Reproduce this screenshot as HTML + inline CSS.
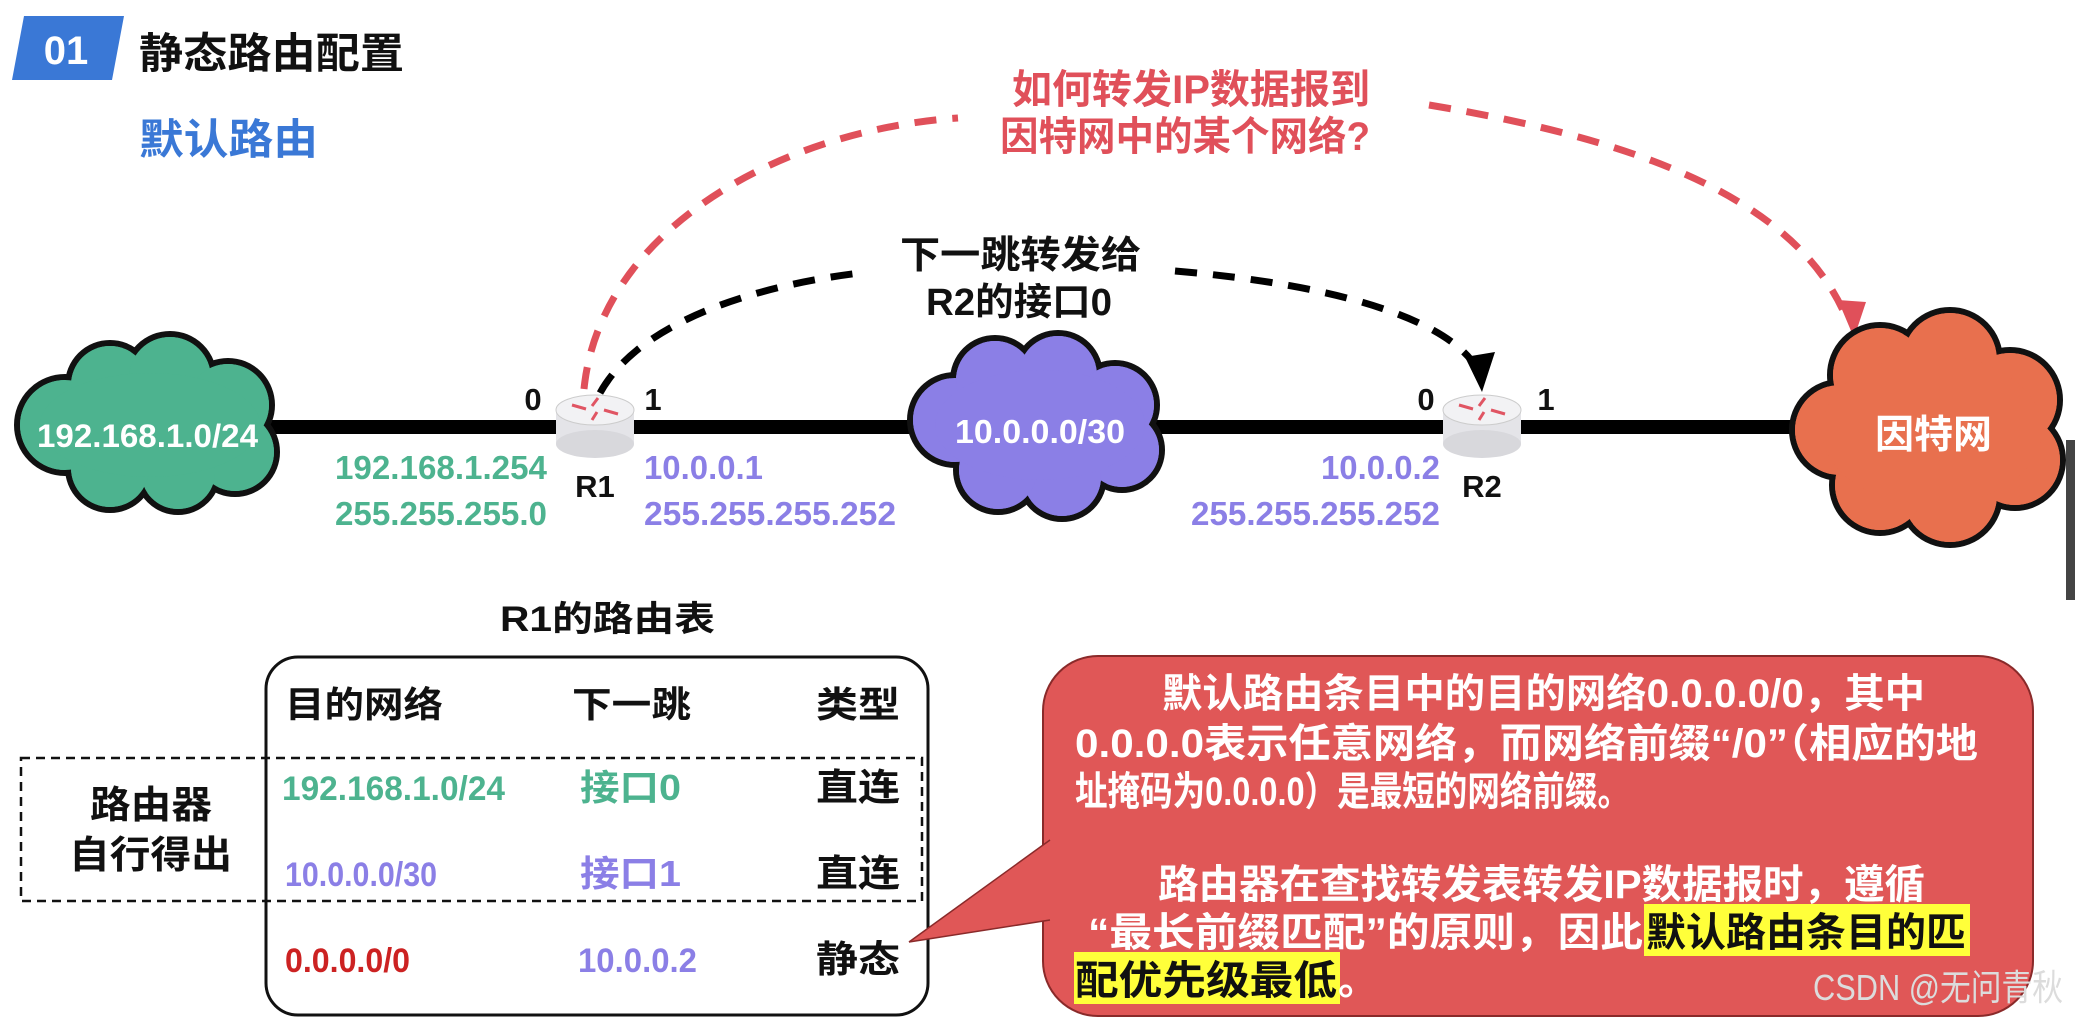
<!DOCTYPE html>
<html><head><meta charset="utf-8"><style>
html,body{margin:0;padding:0;background:#fff;}
svg{display:block;}
text{font-family:"Liberation Sans","Noto Sans CJK SC",sans-serif;font-weight:bold;}
</style></head><body>
<svg width="2075" height="1028" viewBox="0 0 2075 1028" xmlns="http://www.w3.org/2000/svg">
<!-- header -->
<polygon points="24,16 124,16 112,80 12,80" fill="#3a78d6"/>
<text x="66" y="64" font-size="40" fill="#fff" text-anchor="middle">01</text>
<text x="139" y="68" font-size="42" fill="#111" textLength="265" lengthAdjust="spacingAndGlyphs">静态路由配置</text>
<text x="139" y="154" font-size="42" fill="#3a78d6" textLength="179" lengthAdjust="spacingAndGlyphs">默认路由</text>

<!-- red question -->
<text x="1012" y="103" font-size="40" fill="#e0505a" textLength="358" lengthAdjust="spacingAndGlyphs">如何转发IP数据报到</text>
<text x="1000" y="150" font-size="40" fill="#e0505a" textLength="370" lengthAdjust="spacingAndGlyphs">因特网中的某个网络?</text>
<text x="900" y="268" font-size="38" fill="#111" textLength="241" lengthAdjust="spacingAndGlyphs">下一跳转发给</text>
<text x="926" y="315" font-size="38" fill="#111" textLength="186" lengthAdjust="spacingAndGlyphs">R2的接口0</text>

<!-- dashed curves -->
<path d="M584 389 C 600 230, 780 130, 958 118" fill="none" stroke="#e0505a" stroke-width="7" stroke-dasharray="22,16"/>
<path d="M1429 105 C 1640 140, 1800 200, 1848 322" fill="none" stroke="#e0505a" stroke-width="7" stroke-dasharray="22,16"/>
<path d="M600 393 C 640 320, 760 285, 860 273" fill="none" stroke="#000" stroke-width="7" stroke-dasharray="22,16"/>
<path d="M1175 271 C 1340 285, 1450 320, 1478 370" fill="none" stroke="#000" stroke-width="7" stroke-dasharray="22,16"/>
<polygon points="1854,338 1838,300 1866,302" fill="#e0505a"/>
<polygon points="1482,392 1465,357 1495,352" fill="#000"/>

<!-- main line -->
<line x1="260" y1="427" x2="1830" y2="427" stroke="#000" stroke-width="14"/>

<!-- cloud 1 -->
<g stroke="#111" stroke-width="6">
<circle cx="65" cy="425" r="48" fill="#4db38f"/><circle cx="110" cy="385" r="42" fill="#4db38f"/><circle cx="170" cy="378" r="44" fill="#4db38f"/><circle cx="228" cy="405" r="44" fill="#4db38f"/><circle cx="235" cy="452" r="42" fill="#4db38f"/><circle cx="178" cy="472" r="40" fill="#4db38f"/><circle cx="110" cy="468" r="42" fill="#4db38f"/>
</g>
<g fill="#4db38f"><circle cx="65" cy="425" r="45"/><circle cx="110" cy="385" r="39"/><circle cx="170" cy="378" r="41"/><circle cx="228" cy="405" r="41"/><circle cx="235" cy="452" r="39"/><circle cx="178" cy="472" r="37"/><circle cx="110" cy="468" r="39"/><ellipse cx="150" cy="425" rx="110" ry="52"/></g>
<text x="37" y="447" font-size="32" fill="#fff" textLength="221" lengthAdjust="spacingAndGlyphs">192.168.1.0/24</text>

<!-- cloud 2 -->
<g stroke="#111" stroke-width="6">
<circle cx="955" cy="420" r="45" fill="#8b7fe6"/><circle cx="995" cy="380" r="42" fill="#8b7fe6"/><circle cx="1058" cy="375" r="42" fill="#8b7fe6"/><circle cx="1115" cy="405" r="42" fill="#8b7fe6"/><circle cx="1122" cy="450" r="40" fill="#8b7fe6"/><circle cx="1062" cy="477" r="42" fill="#8b7fe6"/><circle cx="998" cy="470" r="42" fill="#8b7fe6"/>
</g>
<g fill="#8b7fe6"><circle cx="955" cy="420" r="42"/><circle cx="995" cy="380" r="39"/><circle cx="1058" cy="375" r="39"/><circle cx="1115" cy="405" r="39"/><circle cx="1122" cy="450" r="37"/><circle cx="1062" cy="477" r="39"/><circle cx="998" cy="470" r="39"/><ellipse cx="1040" cy="425" rx="105" ry="55"/></g>
<text x="955" y="443" font-size="33" fill="#fff" textLength="170" lengthAdjust="spacingAndGlyphs">10.0.0.0/30</text>

<!-- cloud 3 -->
<g stroke="#111" stroke-width="6">
<circle cx="1840" cy="430" r="48" fill="#e8704e"/><circle cx="1880" cy="375" r="50" fill="#e8704e"/><circle cx="1950" cy="360" r="50" fill="#e8704e"/><circle cx="2010" cy="400" r="50" fill="#e8704e"/><circle cx="2015" cy="460" r="48" fill="#e8704e"/><circle cx="1950" cy="495" r="50" fill="#e8704e"/><circle cx="1880" cy="485" r="48" fill="#e8704e"/>
</g>
<g fill="#e8704e"><circle cx="1840" cy="430" r="45"/><circle cx="1880" cy="375" r="47"/><circle cx="1950" cy="360" r="47"/><circle cx="2010" cy="400" r="47"/><circle cx="2015" cy="460" r="45"/><circle cx="1950" cy="495" r="47"/><circle cx="1880" cy="485" r="45"/><ellipse cx="1932" cy="430" rx="110" ry="75"/></g>
<text x="1875" y="448" font-size="39" fill="#fff" textLength="117" lengthAdjust="spacingAndGlyphs">因特网</text>

<!-- routers -->
<g>
<rect x="556" y="410" width="78" height="34" fill="#e4e4e8"/>
<ellipse cx="595" cy="444" rx="39" ry="14" fill="#d8d8dc"/>
<ellipse cx="595" cy="410" rx="39" ry="15" fill="#f2f2f4" stroke="#ccc" stroke-width="1"/>
<path d="M572 405 l14 4 M618 414 l-14 -4 M598 398 l-6 8 M592 420 l5 -8" stroke="#e05563" stroke-width="3"/>
</g>
<g>
<rect x="1443" y="410" width="78" height="34" fill="#e4e4e8"/>
<ellipse cx="1482" cy="444" rx="39" ry="14" fill="#d8d8dc"/>
<ellipse cx="1482" cy="410" rx="39" ry="15" fill="#f2f2f4" stroke="#ccc" stroke-width="1"/>
<path d="M1459 405 l14 4 M1505 414 l-14 -4 M1485 398 l-6 8 M1479 420 l5 -8" stroke="#e05563" stroke-width="3"/>
</g>
<text x="533" y="410" font-size="31" fill="#111" text-anchor="middle">0</text>
<text x="653" y="410" font-size="31" fill="#111" text-anchor="middle">1</text>
<text x="595" y="497" font-size="31" fill="#111" text-anchor="middle">R1</text>
<text x="1426" y="410" font-size="31" fill="#111" text-anchor="middle">0</text>
<text x="1546" y="410" font-size="31" fill="#111" text-anchor="middle">1</text>
<text x="1482" y="497" font-size="31" fill="#111" text-anchor="middle">R2</text>

<text x="335" y="479" font-size="33" fill="#4db38f" textLength="212" lengthAdjust="spacingAndGlyphs">192.168.1.254</text>
<text x="335" y="525" font-size="33" fill="#4db38f" textLength="212" lengthAdjust="spacingAndGlyphs">255.255.255.0</text>
<text x="644" y="479" font-size="33" fill="#8b7fe6" textLength="119" lengthAdjust="spacingAndGlyphs">10.0.0.1</text>
<text x="644" y="525" font-size="33" fill="#8b7fe6" textLength="252" lengthAdjust="spacingAndGlyphs">255.255.255.252</text>
<text x="1321" y="479" font-size="33" fill="#8b7fe6" textLength="119" lengthAdjust="spacingAndGlyphs">10.0.0.2</text>
<text x="1191" y="525" font-size="33" fill="#8b7fe6" textLength="249" lengthAdjust="spacingAndGlyphs">255.255.255.252</text>

<!-- table -->
<text x="500" y="631" font-size="35" fill="#111" textLength="215" lengthAdjust="spacingAndGlyphs">R1的路由表</text>
<rect x="266" y="657" width="662" height="358" rx="32" fill="none" stroke="#111" stroke-width="3"/>
<rect x="21" y="758" width="901" height="143" fill="none" stroke="#111" stroke-width="2.5" stroke-dasharray="9,6"/>
<text x="285" y="717" font-size="36" fill="#111" textLength="158" lengthAdjust="spacingAndGlyphs">目的网络</text>
<text x="572" y="717" font-size="36" fill="#111" textLength="119" lengthAdjust="spacingAndGlyphs">下一跳</text>
<text x="816" y="717" font-size="36" fill="#111" textLength="84" lengthAdjust="spacingAndGlyphs">类型</text>
<text x="90" y="818" font-size="38" fill="#111" textLength="122" lengthAdjust="spacingAndGlyphs">路由器</text>
<text x="69" y="868" font-size="38" fill="#111" textLength="163" lengthAdjust="spacingAndGlyphs">自行得出</text>
<text x="282" y="800" font-size="34" fill="#4db38f" textLength="223" lengthAdjust="spacingAndGlyphs">192.168.1.0/24</text>
<text x="580" y="800" font-size="36" fill="#4db38f" textLength="101" lengthAdjust="spacingAndGlyphs">接口0</text>
<text x="816" y="800" font-size="37" fill="#111" textLength="84" lengthAdjust="spacingAndGlyphs">直连</text>
<text x="285" y="886" font-size="34" fill="#8b7fe6" textLength="152" lengthAdjust="spacingAndGlyphs">10.0.0.0/30</text>
<text x="580" y="886" font-size="36" fill="#8b7fe6" textLength="101" lengthAdjust="spacingAndGlyphs">接口1</text>
<text x="816" y="886" font-size="37" fill="#111" textLength="84" lengthAdjust="spacingAndGlyphs">直连</text>
<text x="285" y="972" font-size="34" fill="#cc2222" textLength="125" lengthAdjust="spacingAndGlyphs">0.0.0.0/0</text>
<text x="578" y="972" font-size="34" fill="#8b7fe6" textLength="119" lengthAdjust="spacingAndGlyphs">10.0.0.2</text>
<text x="816" y="972" font-size="37" fill="#111" textLength="84" lengthAdjust="spacingAndGlyphs">静态</text>

<!-- callout -->
<rect x="1043" y="656" width="990" height="360" rx="55" fill="#e05757" stroke="#8a2a2a" stroke-width="2"/>
<polygon points="1050,840 1050,920 909,942" fill="#e05757"/>
<line x1="1050" y1="840" x2="909" y2="942" stroke="#8a2a2a" stroke-width="1.5"/>
<line x1="1050" y1="920" x2="909" y2="942" stroke="#8a2a2a" stroke-width="1.5"/>
<rect x="1644" y="904" width="326" height="52" fill="#ffff3a"/>
<rect x="1074" y="952" width="266" height="52" fill="#ffff3a"/>
<g font-size="40" fill="#fff">
<text x="1162" y="707" textLength="763" lengthAdjust="spacingAndGlyphs">默认路由条目中的目的网络0.0.0.0/0，其中</text>
<text x="1075" y="757" textLength="903" lengthAdjust="spacingAndGlyphs">0.0.0.0表示任意网络，而网络前缀“/0”（相应的地</text>
<text x="1075" y="805" textLength="555" lengthAdjust="spacingAndGlyphs">址掩码为0.0.0.0）是最短的网络前缀。</text>
<text x="1158" y="898" textLength="767" lengthAdjust="spacingAndGlyphs">路由器在查找转发表转发IP数据报时，遵循</text>
<text x="1088" y="946" textLength="555" lengthAdjust="spacingAndGlyphs">“最长前缀匹配”的原则，因此</text>
<text x="1646" y="946" fill="#111" textLength="320" lengthAdjust="spacingAndGlyphs">默认路由条目的匹</text>
<text x="1075" y="994" fill="#111" textLength="262" lengthAdjust="spacingAndGlyphs">配优先级最低</text>
<text x="1338" y="994">。</text>
</g>
<text x="1813" y="1000" font-size="36" fill="#dcdcdc" style="font-weight:normal" textLength="250" lengthAdjust="spacingAndGlyphs">CSDN @无问青秋</text>
<rect x="2066" y="440" width="9" height="160" fill="#444"/>
</svg>
</body></html>
